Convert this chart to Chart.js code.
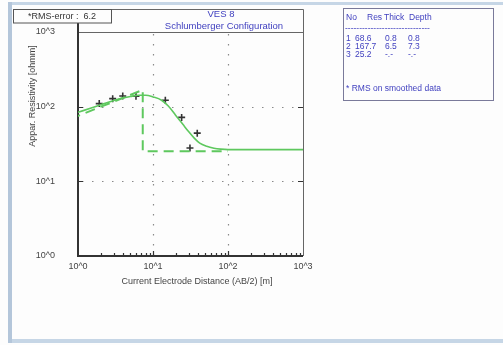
<!DOCTYPE html>
<html>
<head>
<meta charset="utf-8">
<script src="https://cdn.jsdelivr.net/npm/chart.js@4.4.0/dist/chart.umd.min.js"></script>
<style>
  html, body { margin: 0; padding: 0; background: #ffffff; }
  canvas { display: block; }
</style>
</head>
<body>
<canvas id="vesChart" width="503" height="345"></canvas>
<script>
// VES 8 - Schlumberger sounding curve

// measured apparent resistivity (AB/2 in m, rho in ohmm)
const measuredAB2 = [1.92, 2.9, 3.95, 5.93, 14.6, 24.1, 31.1, 38.9];
const measuredRho = [110, 128, 139, 138, 122, 71.8, 27.9, 44.2];

// fitted (smoothed) curve
const fitAB2 = [1, 1.5, 2, 3, 4, 5, 6.5, 8, 10, 13, 16, 20, 25, 30, 35, 42, 52, 65, 80, 100, 1000];
const fitRho = [84, 96, 106, 121, 131, 137, 142, 142, 135, 122, 102, 77, 58, 46, 38.5, 32.5, 29.5, 27.8, 27, 26.6, 26.6];

// layered model (depth, resistivity)
const modelDepth = [0.8, 7.3, 7.3, 100];
const modelRho = [68.6, 167.7, 25.2, 25.2];

// layer table
const layerNo = ["1", "2", "3"];
const layerRes = ["68.6", "167.7", "25.2"];
const layerThick = ["0.8", "6.5", "-.-"];
const layerDepth = ["0.8", "7.3", "-.-"];

const rmsError = "6.2";
const decadeTicks = [1, 10, 100, 1000];

const green = "#5ec85e";
const blue = "#3f3fbf";
const axisFont = "9px 'Liberation Sans', Arial, sans-serif";

function toPoints(xs, ys) {
  return xs.map((x, i) => ({ x: x, y: ys[i] }));
}

function isDecade(v) {
  const l = Math.log10(v);
  return Math.abs(l - Math.round(l)) < 1e-6;
}

// frame, grid, ticks and text around the plot
const decorPlugin = {
  id: "decor",
  beforeDraw(chart) {
    const ctx = chart.ctx;
    ctx.save();
    ctx.fillStyle = "#fdfdfd";
    ctx.fillRect(0, 0, chart.width, chart.height);
    // window border
    ctx.fillStyle = "#c6d6e6";
    ctx.fillRect(8, 2, 495, 3);
    ctx.fillRect(8, 339, 495, 4);
    ctx.fillStyle = "#b4c6da";
    ctx.fillRect(8, 2, 4, 341);
    ctx.restore();
  },
  beforeDatasetsDraw(chart) {
    const ctx = chart.ctx;
    const xs = chart.scales.x;
    const ys = chart.scales.y;
    const a = chart.chartArea;
    ctx.save();

    // dotted grid at inner decades
    ctx.strokeStyle = "#8a8a8a";
    ctx.lineWidth = 1.2;
    ctx.setLineDash([1.5, 8.5]);
    decadeTicks.slice(1, -1).forEach((v) => {
      const px = Math.round(xs.getPixelForValue(v)) + 0.5;
      ctx.beginPath();
      ctx.moveTo(px, a.top + 2);
      ctx.lineTo(px, a.bottom);
      ctx.stroke();
      const py = Math.round(ys.getPixelForValue(v)) + 0.5;
      ctx.beginPath();
      ctx.moveTo(a.left + 4, py);
      ctx.lineTo(a.right, py);
      ctx.stroke();
    });
    ctx.setLineDash([]);

    // thin frame
    ctx.strokeStyle = "#666";
    ctx.lineWidth = 1;
    ctx.beginPath();
    ctx.moveTo(a.left, 9.5);
    ctx.lineTo(a.right + 0.5, 9.5);
    ctx.lineTo(a.right + 0.5, a.bottom);
    ctx.moveTo(a.left, a.top + 0.5);
    ctx.lineTo(a.right, a.top + 0.5);
    ctx.stroke();

    // major ticks on left/right/bottom
    ctx.strokeStyle = "#333";
    ctx.lineWidth = 1.2;
    ctx.beginPath();
    decadeTicks.slice(1, -1).forEach((v) => {
      const py = Math.round(ys.getPixelForValue(v)) + 0.5;
      ctx.moveTo(a.left, py);
      ctx.lineTo(a.left + 5, py);
      ctx.moveTo(a.right, py);
      ctx.lineTo(a.right - 5, py);
      const px = Math.round(xs.getPixelForValue(v)) + 0.5;
      ctx.moveTo(px, a.bottom);
      ctx.lineTo(px, a.bottom - 5);
    });
    // minor ticks on bottom axis
    for (let d = 1; d < 1000; d *= 10) {
      for (let m = 2; m <= 9; m++) {
        const px = Math.round(xs.getPixelForValue(d * m)) + 0.5;
        ctx.moveTo(px, a.bottom);
        ctx.lineTo(px, a.bottom - 3);
      }
    }
    ctx.stroke();

    // heavy left and bottom axes
    ctx.strokeStyle = "#333";
    ctx.lineWidth = 2;
    ctx.beginPath();
    ctx.moveTo(a.left, 20);
    ctx.lineTo(a.left, a.bottom);
    ctx.lineTo(a.right, a.bottom);
    ctx.stroke();

    // RMS box
    ctx.fillStyle = "#fdfdfd";
    ctx.fillRect(13, 9, 99, 14);
    ctx.strokeStyle = "#555";
    ctx.lineWidth = 1;
    ctx.strokeRect(13.5, 9.5, 98, 13.5);
    ctx.font = axisFont;
    ctx.fillStyle = "#333";
    ctx.textAlign = "center";
    ctx.textBaseline = "middle";
    ctx.fillText("*RMS-error :  " + rmsError, 62, 16.5);

    // title
    ctx.fillStyle = blue;
    ctx.font = "9.5px 'Liberation Sans', Arial, sans-serif";
    ctx.fillText("VES 8", 221, 14);
    ctx.fillText("Schlumberger Configuration", 224, 26);

    // axis titles
    ctx.fillStyle = "#444";
    ctx.font = axisFont;
    ctx.fillText("Current Electrode Distance (AB/2) [m]", 197, 282);
    ctx.save();
    ctx.translate(33, 96);
    ctx.rotate(-Math.PI / 2);
    ctx.fillText("Appar. Resistivity [ohmm]", 0, 0);
    ctx.restore();

    // layer table
    ctx.strokeStyle = "#7a7a9a";
    ctx.strokeRect(343.5, 8.5, 150, 92);
    ctx.fillStyle = blue;
    ctx.font = "8.5px 'Liberation Sans', Arial, sans-serif";
    ctx.textAlign = "left";
    ctx.fillText("No", 346, 18);
    ctx.fillText("Res", 367, 18);
    ctx.fillText("Thick", 384, 18);
    ctx.fillText("Depth", 409, 18);
    ctx.fillText("------------------------------", 345, 29);
    layerNo.forEach((n, i) => {
      const y = 39 + i * 8;
      ctx.fillText(n, 346, y);
      ctx.fillText(layerRes[i], 355, y);
      ctx.fillText(layerThick[i], 385, y);
      ctx.fillText(layerDepth[i], 408, y);
    });
    ctx.fillText("* RMS on smoothed data", 346, 89);

    ctx.restore();
  },
};

new Chart(document.getElementById("vesChart").getContext("2d"), {
  type: "line",
  data: {
    datasets: [
      {
        label: "Model",
        data: toPoints(modelDepth, modelRho),
        borderColor: green,
        borderWidth: 2,
        borderDash: [10, 6],
        pointRadius: 0,
        tension: 0,
      },
      {
        label: "Fitted curve",
        data: toPoints(fitAB2, fitRho),
        borderColor: green,
        borderWidth: 1.6,
        pointRadius: 0,
        cubicInterpolationMode: "monotone",
      },
      {
        label: "Measured",
        type: "scatter",
        data: toPoints(measuredAB2, measuredRho),
        pointStyle: "cross",
        pointRadius: 3.5,
        borderColor: "#333",
        borderWidth: 1.6,
        showLine: false,
      },
    ],
  },
  options: {
    responsive: false,
    animation: false,
    layout: { padding: { left: 0, top: 32, right: 200, bottom: 0 } },
    plugins: {
      legend: { display: false },
      tooltip: { enabled: false },
    },
    scales: {
      x: {
        type: "logarithmic",
        min: 1,
        max: 1000,
        grid: { display: false, drawTicks: false },
        border: { display: false },
        afterFit: (s) => { s.height = 89; },
        ticks: {
          autoSkip: false,
          maxRotation: 0,
          padding: 5,
          color: "#444",
          font: { family: "'Liberation Sans', Arial, sans-serif", size: 9 },
          callback: (v) => (isDecade(v) ? "10^" + Math.round(Math.log10(v)) : ""),
        },
      },
      y: {
        type: "logarithmic",
        min: 1,
        max: 1000,
        grid: { display: false, drawTicks: false },
        border: { display: false },
        afterFit: (s) => { s.width = 78; },
        ticks: {
          autoSkip: false,
          padding: 23,
          color: "#444",
          font: { family: "'Liberation Sans', Arial, sans-serif", size: 9 },
          callback: (v) => (isDecade(v) ? "10^" + Math.round(Math.log10(v)) : ""),
        },
      },
    },
  },
  plugins: [decorPlugin],
});
</script>
</body>
</html>
